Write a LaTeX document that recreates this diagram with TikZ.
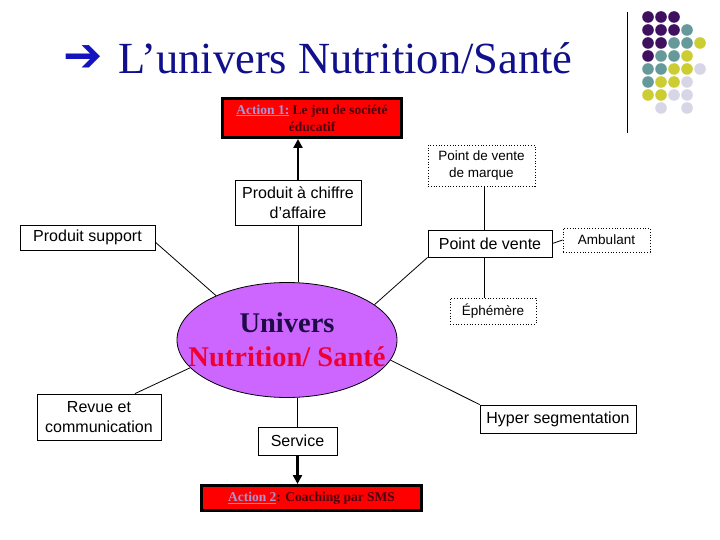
\documentclass[tikz,border=0pt]{standalone}
\usepackage{fontspec}
\setmainfont{Liberation Serif}
\setsansfont{Liberation Sans}
\newfontfamily\arrowfont{DejaVu Sans}
\usetikzlibrary{arrows.meta}
\usetikzlibrary{shapes.geometric}
\definecolor{titleblue}{RGB}{16,16,140}
\definecolor{arrowblue}{RGB}{20,20,190}
\definecolor{actred}{RGB}{255,0,0}
\definecolor{actdark}{RGB}{75,0,15}
\definecolor{actlink}{RGB}{165,150,215}
\definecolor{univfill}{RGB}{204,102,255}
\definecolor{univdark}{RGB}{30,10,70}
\definecolor{univred}{RGB}{240,0,50}
\definecolor{dotP}{RGB}{64,16,96}
\definecolor{dotT}{RGB}{102,153,153}
\definecolor{dotY}{RGB}{204,204,51}
\definecolor{dotL}{RGB}{214,214,230}

\begin{document}
\begin{tikzpicture}[x=1pt, y=-1pt,
    box/.style={draw, line width=0.8pt, align=center, inner sep=0pt,
      font=\sffamily\fontsize{16}{20}\selectfont},
    dotbox/.style={box, dotted, font=\sffamily\fontsize{13.5}{17}\selectfont},
    action/.style={draw, line width=3pt, fill=actred, align=center, inner sep=0pt,
      text=actdark, font=\bfseries\fontsize{13.5}{17}\selectfont},
    link/.style={line width=0.8pt},
    push/.style={line width=2.5pt, -{Triangle[length=9pt,width=9pt]}}]

  \useasboundingbox (0,0) rectangle (720,540);

  % title
  \node[anchor=base west, inner sep=0pt, text=arrowblue,
    font=\arrowfont\fontsize{47}{47}\selectfont] (pointer) at (63,72) {➔};
  \node[anchor=base west, inner sep=0pt, text=titleblue,
    font=\fontsize{44.5}{44.5}\selectfont] (title) at (118,74) {L’univers Nutrition/Santé};

  % corner dots
  \draw[line width=1pt] (627,12) -- (627,133);
  \foreach \dotrow [count=\r] in {{dotP,dotP,dotP},{dotP,dotP,dotP,dotT},
      {dotP,dotP,dotT,dotT,dotY},{dotP,dotT,dotT,dotY},{dotT,dotT,dotY,dotY,dotL},
      {dotT,dotY,dotY,dotL},{dotY,dotY,dotL,dotL},{white,dotL,white,dotL}}
    \foreach \c [count=\k] in \dotrow
      \fill[\c] ({635+13*\k},{4+13*\r}) circle (5.8);

  % nodes
  \node[action, minimum width=179, minimum height=39] (act1) at (312,118)
    {\textcolor{actlink}{\underline{Action 1:}} Le jeu de société\\éducatif};
  \node[box, minimum width=126, minimum height=45] (chiffre) at (298,202.5)
    {Produit à chiffre\\d'affaire};
  \node[box, minimum width=135, minimum height=25] (support) at (87.5,237.5)
    {Produit support};
  \node[dotbox, minimum width=107, minimum height=41] (marque) at (481.5,165.5)
    {Point de vente\\de marque};
  \node[box, minimum width=124, minimum height=27] (vente) at (490,243.5)
    {Point de vente};
  \node[dotbox, minimum width=87, minimum height=24] (ambulant) at (606.5,240)
    {Ambulant};
  \node[dotbox, minimum width=86, minimum height=26] (ephemere) at (493,311)
    {Éphémère};
  \node[ellipse, draw, line width=0.8pt, fill=univfill, minimum width=220,
    minimum height=115, inner sep=0pt,
    label={[align=center, font=\bfseries\fontsize{28.5}{34}\selectfont]center:
      \textcolor{univdark}{Univers}\\\textcolor{univred}{Nutrition/ Santé}}]
    (univers) at (287,340) {};
  \node[box, minimum width=124, minimum height=46] (revue) at (99,417)
    {Revue et\\communication};
  \node[box, minimum width=79, minimum height=28] (service) at (297.5,441)
    {Service};
  \node[box, minimum width=156, minimum height=28] (hyper) at (558,419)
    {Hyper segmentation};
  \node[action, minimum width=220, minimum height=25] (act2) at (311.5,498)
    {\textcolor{actlink}{\underline{Action 2}}: Coaching par SMS};

  % connectors
  \draw[push] (chiffre.north) -- (chiffre.north |- act1.south);
  \draw[link] (chiffre.south) -- (chiffre.south |- univers.north);
  \draw[link] (support.-4) -- (univers.148);
  \draw[link] ([xshift=3pt]marque.south) -- ([xshift=3pt]marque.south |- vente.north);
  \draw[link] (vente.east) -- (ambulant.west);
  \draw[link] (vente.south west) -- (univers.22);
  \draw[link] (vente.south -| marque.south) ++(3,0) -- ([xshift=3pt]ephemere.north -| marque.south);
  \draw[link] (revue.33) -- (univers.196);
  \draw[link] (univers.-11) -- (hyper.north west);
  \draw[link] (service.north |- univers.south) -- (service.north);
  \draw[push] (service.south) -- (service.south |- act2.north);
\end{tikzpicture}
\end{document}
